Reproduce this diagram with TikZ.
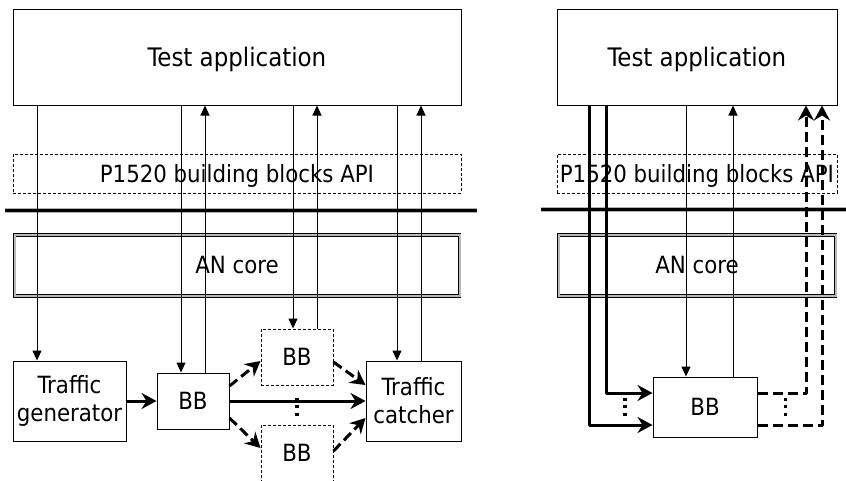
\documentclass[tikz,border=0pt]{standalone}
\usepackage{fontspec}
\IfFontExistsTF{DejaVu Sans Condensed}{\setmainfont{DejaVu Sans Condensed}}{\setmainfont{Liberation Sans}}
\usetikzlibrary{arrows.meta}
\newcommand\fsA{\fontsize{25.5}{28}\selectfont}
\newcommand\fsB{\fontsize{23.7}{28}\selectfont}
\tikzset{
  box/.style={draw, line width=1pt, inner sep=0pt, align=center, font=\fsB},
  onel/.style={text depth=0pt},
  dbox/.style={box, dash pattern=on 3pt off 2pt},
  corebox/.style={box, line width=0.8pt, double=gray!55, double distance=2pt},
  tarr/.style={line width=1pt, -{Triangle[length=10pt,width=9pt]}},
  karr/.style={line width=3pt, line join=round, -{Stealth[length=15pt,width=16pt,inset=5pt]}},
  kdash/.style={karr, dash pattern=on 10pt off 5pt},
  sepline/.style={line width=1pt, draw=gray!60, double=black, double distance=3pt},
  dotline/.style={line width=3.2pt, dash pattern=on 3pt off 4.5pt}
}
\begin{document}
\begin{tikzpicture}[x=1pt,y=-1pt]
\useasboundingbox (0,0) rectangle (846,480);
% ---------- left diagram ----------
\node[box, onel, font=\fsA, minimum width=448pt, minimum height=96pt] (appL) at (237,57) {Test application};
\node[dbox, onel, minimum width=448pt, minimum height=39pt] (apiL) at (237,173.5) {P1520 building blocks API};
\coordinate (sepL1) at (5,210);
\coordinate (sepL2) at (477,210);
\draw[sepline] (sepL1) -- (sepL2);
\node[corebox, onel, minimum width=445pt, minimum height=61pt] (coreL) at (237,265.3) {AN core};
\node[box, minimum width=113pt, minimum height=80pt] (gen) at (69.5,401) {Traffic\\generator};
\node[box, onel, minimum width=72pt, minimum height=56pt] (bbL) at (193,401) {BB};
\node[dbox, onel, minimum width=72pt, minimum height=56pt] (bbT) at (297,357) {BB};
\node[dbox, onel, minimum width=72pt, minimum height=56pt] (bbB) at (297,453) {BB};
\node[box, minimum width=95pt, minimum height=80pt] (catch) at (413.5,401) {Traffic\\catcher};
% vertical x positions
\coordinate (x1) at (37,0);
\coordinate (x2) at (181,0);
\coordinate (x3) at (205,0);
\coordinate (x4) at (293,0);
\coordinate (x5) at (317,0);
\coordinate (x6) at (397,0);
\coordinate (x7) at (421,0);
\draw[tarr] (appL.south -| x1) -- (gen.north -| x1);
\draw[tarr] (appL.south -| x2) -- (bbL.north -| x2);
\draw[tarr] (bbL.north -| x3) -- (appL.south -| x3);
\draw[tarr] (appL.south -| x4) -- (bbT.north -| x4);
\draw[tarr] (bbT.north -| x5) -- (appL.south -| x5);
\draw[tarr] (appL.south -| x6) -- (catch.north -| x6);
\draw[tarr] (catch.north -| x7) -- (appL.south -| x7);
% data path
\draw[karr] (gen.east) -- (bbL.west);
\draw[karr] (bbL.east) -- (catch.west);
\draw[kdash] ([yshift=15pt]bbL.east) -- ([yshift=-4pt]bbT.west);
\draw[kdash] ([yshift=-5pt]bbT.east) -- ([yshift=16pt]catch.west);
\draw[kdash] ([yshift=-17pt]bbL.east) -- ([yshift=5pt]bbB.west);
\draw[kdash] ([yshift=2pt]bbB.east) -- ([yshift=-17pt]catch.west);
\coordinate (d1a) at (297,397.5);
\coordinate (d1b) at (297,417);
\draw[dotline] (d1a) -- (d1b);
% ---------- right diagram ----------
\node[box, onel, font=\fsA, minimum width=280pt, minimum height=96pt] (appR) at (697,57) {Test application};
\node[dbox, onel, minimum width=280pt, minimum height=39pt] (apiR) at (697,173.5) {P1520 building blocks API};
\coordinate (sepR1) at (541,209.5);
\coordinate (sepR2) at (846,209.5);
\draw[sepline] (sepR1) -- (sepR2);
\node[corebox, onel, minimum width=277pt, minimum height=61pt] (coreR) at (697,265.3) {AN core};
\node[box, onel, minimum width=104pt, minimum height=60pt] (bbR) at (705,407) {BB};
\coordinate (xa) at (589,0);
\coordinate (xb) at (606,0);
\coordinate (xc) at (686,0);
\coordinate (xd) at (733,0);
\coordinate (xe) at (806,0);
\coordinate (xf) at (822,0);
\draw[karr] (appR.south -| xa) |- ([yshift=-18pt]bbR.west);
\draw[karr] (appR.south -| xb) |- ([yshift=14pt]bbR.west);
\draw[tarr] (appR.south -| xc) -- (bbR.north -| xc);
\draw[tarr] (bbR.north -| xd) -- (appR.south -| xd);
\draw[kdash] ([yshift=14pt]bbR.east) -| (appR.south -| xe);
\draw[kdash] ([yshift=-18pt]bbR.east) -| (appR.south -| xf);
\coordinate (d2a) at (625,397.5);
\coordinate (d2b) at (625,417);
\draw[dotline] (d2a) -- (d2b);
\coordinate (d3a) at (785.5,397.5);
\coordinate (d3b) at (785.5,417);
\draw[dotline] (d3a) -- (d3b);
\end{tikzpicture}
\end{document}
